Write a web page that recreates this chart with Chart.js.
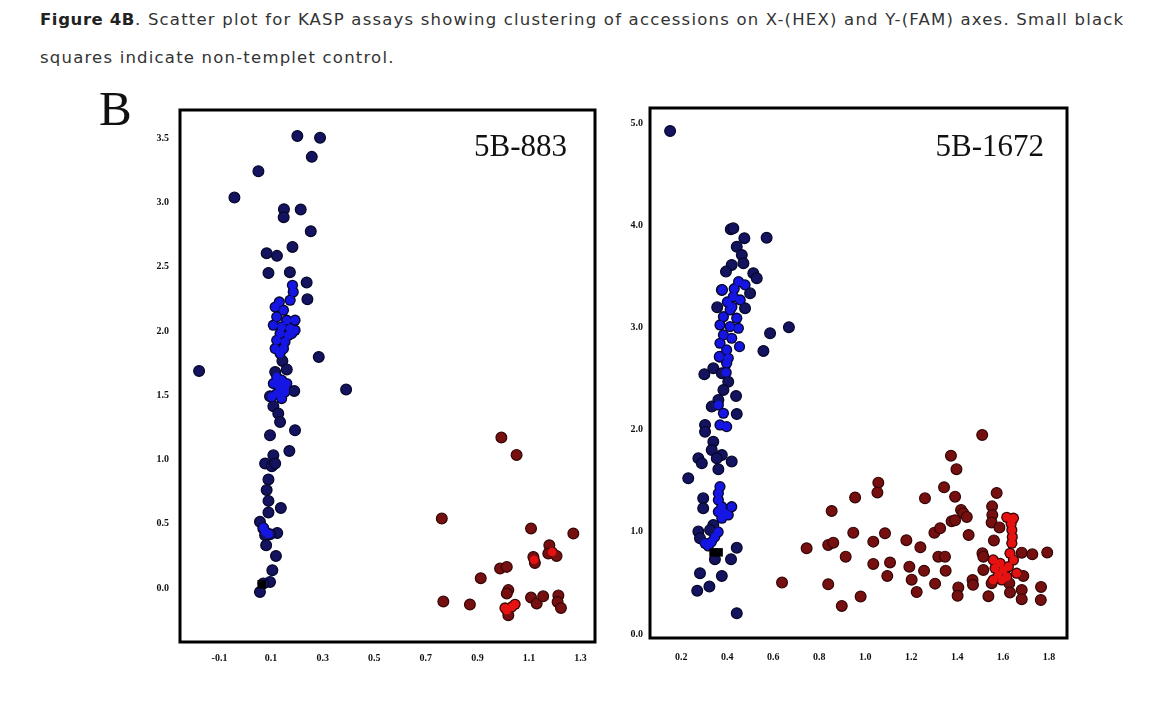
<!DOCTYPE html>
<html>
<head>
<meta charset="utf-8">
<script src="https://cdn.jsdelivr.net/npm/chart.js@4.4.1/dist/chart.umd.min.js"></script>
<style>
  body { margin: 0; background: #fff; width: 1162px; height: 706px; position: relative; overflow: hidden; }
  #caption { position: absolute; left: 40px; top: 1px; font-family: 'DejaVu Sans', sans-serif; font-size: 16.5px; letter-spacing: 1.2px; line-height: 38px; color: #333; white-space: nowrap; }
  #caption b { font-weight: bold; color: #222; letter-spacing: 0.6px; }
  #letter { position: absolute; left: 99px; top: 80px; font-family: 'Liberation Serif', serif; font-size: 49px; color: #111; }
  .box { position: absolute; }
</style>
</head>
<body>
<div id="caption"><b>Figure 4B</b>. Scatter plot for KASP assays showing clustering of accessions on X-(HEX) and Y-(FAM) axes. Small black<br>squares indicate non-templet control.</div>
<div id="letter">B</div>
<div class="box" style="left:130px;top:100px;width:480px;height:580px"><canvas id="left"></canvas></div>
<div class="box" style="left:600px;top:90px;width:480px;height:590px"><canvas id="right"></canvas></div>
<script>
// ----- dados: painel 5B-883 -----
const leftXTicks = [-0.1, 0.1, 0.3, 0.5, 0.7, 0.9, 1.1, 1.3];
const leftYTicks = [0.0, 0.5, 1.0, 1.5, 2.0, 2.5, 3.0, 3.5];

const leftBlue = [
  [-0.179,1.69],[-0.042,3.04],[0.051,3.245],[0.202,3.52],[0.290,3.505],[0.258,3.357],[0.150,2.949],
  [0.215,2.947],[0.149,2.887],[0.254,2.778],[0.183,2.656],[0.083,2.607],[0.123,2.586],[0.090,2.453],
  [0.173,2.459],[0.238,2.379],[0.241,2.248],[0.285,1.799],[0.391,1.545],[0.190,1.534],[0.144,1.768],
  [0.161,1.701],[0.116,1.682],[0.096,1.493],[0.109,1.415],[0.128,1.358],[0.135,1.293],[0.193,1.228],
  [0.096,1.189],[0.171,1.067],[0.109,1.033],[0.077,0.969],[0.103,0.948],[0.116,0.969],[0.090,0.845],
  [0.083,0.762],[0.090,0.678],[0.138,0.623],[0.090,0.588],[0.057,0.515],[0.070,0.463],[0.124,0.428],
  [0.096,0.418],[0.077,0.410],[0.081,0.332],[0.119,0.249],[0.105,0.138],[0.096,0.047],[0.070,0.035],
  [0.057,-0.031]
];
const leftBlueCore = [
  [0.183,2.357],[0.186,2.305],[0.174,2.241],[0.132,2.227],[0.116,2.188],[0.148,2.163],[0.122,2.111],
  [0.161,2.085],[0.193,2.085],[0.109,2.046],[0.141,2.033],[0.174,2.020],[0.193,2.007],[0.135,1.981],
  [0.167,1.968],[0.122,1.929],[0.154,1.916],[0.180,1.981],[0.116,1.864],[0.148,1.864],[0.135,1.826],
  [0.122,1.643],[0.141,1.618],[0.109,1.592],[0.161,1.592],[0.135,1.553],[0.122,1.514],[0.154,1.526],
  [0.103,1.488],[0.141,1.475],[0.154,1.560],[0.128,1.580],[0.070,0.470],[0.077,0.440],[0.090,0.420]
];
const leftRed = [
  [0.993,1.171],[1.052,1.036],[0.762,0.540],[1.108,0.463],[1.272,0.424],[1.179,0.333],[1.175,0.268],
  [1.207,0.249],[1.117,0.241],[1.123,0.195],[0.988,0.151],[1.014,0.164],[0.913,0.076],[1.020,-0.017],
  [1.014,-0.043],[0.768,-0.106],[0.871,-0.129],[1.108,-0.075],[1.130,-0.121],[1.155,-0.065],
  [1.214,-0.058],[1.211,-0.109],[1.224,-0.156],[1.020,-0.213]
];
const leftRedCore = [[1.007,-0.156],[1.033,-0.148],[1.046,-0.127],[1.014,-0.174],[1.120,0.220],[1.190,0.280]];
const leftNtc = [[0.064,0.029]];

// ----- dados: painel 5B-1672 -----
const rightXTicks = [0.2, 0.4, 0.6, 0.8, 1.0, 1.2, 1.4, 1.6, 1.8];
const rightYTicks = [0.0, 1.0, 2.0, 3.0, 4.0, 5.0];

const rightBlue = [
  [0.151,4.923],[0.415,3.962],[0.426,3.971],[0.474,3.874],[0.571,3.879],[0.441,3.791],[0.463,3.710],
  [0.419,3.612],[0.470,3.629],[0.394,3.547],[0.513,3.531],[0.528,3.482],[0.376,3.368],[0.499,3.335],
  [0.356,3.198],[0.477,3.189],[0.668,3.003],[0.586,2.944],[0.557,2.771],[0.368,2.715],[0.339,2.601],
  [0.300,2.543],[0.376,2.553],[0.404,2.470],[0.383,2.389],[0.438,2.330],[0.361,2.291],[0.332,2.226],
  [0.441,2.154],[0.303,2.047],[0.303,1.981],[0.339,1.883],[0.332,1.802],[0.376,1.753],[0.274,1.721],
  [0.289,1.672],[0.354,1.721],[0.419,1.688],[0.361,1.613],[0.230,1.525],[0.295,1.329],[0.295,1.232],
  [0.339,1.068],[0.325,1.019],[0.274,1.003],[0.281,0.938],[0.441,0.846],[0.346,0.733],[0.416,0.733],
  [0.281,0.596],[0.376,0.569],[0.269,0.425],[0.322,0.465],[0.441,0.204]
];
const rightBlueCore = [
  [0.449,3.449],[0.477,3.417],[0.378,3.368],[0.426,3.302],[0.456,3.270],[0.412,3.172],[0.383,3.106],
  [0.441,3.091],[0.368,3.025],[0.412,3.009],[0.448,2.993],[0.383,2.928],[0.419,2.895],[0.368,2.846],
  [0.453,2.813],[0.397,2.781],[0.365,2.715],[0.404,2.699],[0.397,2.650],[0.420,3.200],[0.400,3.250],
  [0.430,3.380],[0.395,2.560],[0.383,2.161],[0.397,2.030],[0.368,2.047],[0.361,2.242],[0.368,1.443],
  [0.361,1.378],[0.361,1.313],[0.376,1.247],[0.361,1.198],[0.390,1.183],[0.419,1.247],[0.376,1.134],
  [0.404,1.166],[0.303,0.889],[0.317,0.863],[0.330,0.900],[0.345,0.950],[0.360,1.000]
];
const rightRed = [
  [0.638,0.504],[0.745,0.840],[0.839,0.873],[0.861,0.895],[0.854,1.205],[0.915,0.758],[0.839,0.488],
  [0.898,0.276],[0.948,0.993],[0.956,1.337],[0.980,0.367],[1.035,0.905],[1.035,0.687],[1.057,1.482],
  [1.053,1.386],[1.086,0.987],[1.096,0.569],[1.108,0.701],[1.179,0.919],[1.192,0.660],[1.202,0.533],
  [1.224,0.411],[1.240,0.850],[1.260,1.329],[1.256,0.620],[1.304,0.494],[1.301,0.993],[1.326,1.036],
  [1.318,0.758],[1.347,0.758],[1.343,1.437],[1.350,0.621],[1.373,1.746],[1.376,1.104],[1.391,1.114],
  [1.397,1.614],[1.391,1.345],[1.405,0.457],[1.402,0.375],[1.417,1.215],[1.427,1.183],[1.442,1.147],
  [1.450,0.970],[1.467,0.530],[1.469,0.482],[1.509,1.949],[1.510,0.791],[1.514,0.758],[1.514,0.628],
  [1.536,0.371],[1.552,1.250],[1.553,1.166],[1.550,1.093],[1.572,1.381],[1.560,0.917],[1.584,1.044],
  [1.681,0.797],[1.727,0.781],[1.792,0.799],[1.627,0.498],[1.630,0.408],[1.688,0.569],[1.681,0.432],
  [1.681,0.342],[1.765,0.462],[1.764,0.334],[1.550,0.498]
];
const rightRedCore = [
  [1.616,1.143],[1.645,1.134],[1.638,1.019],[1.638,0.889],[1.557,0.726],[1.587,0.693],[1.565,0.645],
  [1.601,0.628],[1.579,0.579],[1.557,0.530],[1.594,0.530],[1.616,0.562],[1.630,0.791],[1.645,0.726],
  [1.623,0.660],[1.659,0.596],[1.640,0.950],[1.635,1.080]
];
const rightNtc = [[0.340,0.800],[0.362,0.800]];

// ----- estilos -----
const COLORS = {
  blueDark: '#13135f',
  blueEdge: '#06062a',
  blueBright: '#1616e4',
  redDark: '#761010',
  redEdge: '#350505',
  redBright: '#e61212',
  frame: '#000',
  tick: '#111',
};

const toPts = arr => arr.map(([x, y]) => ({ x, y }));

// moldura em volta da área do gráfico + rótulo do ensaio
const framePlugin = {
  id: 'frame',
  afterDraw(chart, args, opts) {
    const { ctx, chartArea: a } = chart;
    ctx.save();
    ctx.lineWidth = 3;
    ctx.strokeStyle = COLORS.frame;
    ctx.strokeRect(a.left, a.top, a.right - a.left, a.bottom - a.top);
    ctx.fillStyle = '#111';
    ctx.font = "31px 'Liberation Serif', serif";
    ctx.textAlign = 'right';
    ctx.textBaseline = 'middle';
    ctx.fillText(opts.label, a.right - opts.labelRight, a.top + opts.labelTop);
    ctx.restore();
  },
};

function panel(canvasId, cfg) {
  const ctx = document.getElementById(canvasId).getContext('2d');
  const tickFont = { family: "'Liberation Serif', serif", size: 10, weight: 'bold' };
  return new Chart(ctx, {
    type: 'scatter',
    plugins: [framePlugin],
    data: {
      datasets: [
        { data: toPts(cfg.ntc), pointStyle: 'rect', pointRadius: 6, backgroundColor: '#000', borderColor: '#000', borderWidth: 0, order: 0 },
        { data: toPts(cfg.redCore), pointRadius: 4.3, backgroundColor: COLORS.redBright, borderWidth: 0, order: 1 },
        { data: toPts(cfg.red), pointRadius: 5.4, backgroundColor: COLORS.redDark, borderColor: COLORS.redEdge, borderWidth: 1.2, order: 2 },
        { data: toPts(cfg.redCore), pointRadius: 5.6, backgroundColor: COLORS.redEdge, borderWidth: 0, order: 3 },
        { data: toPts(cfg.blueCore), pointRadius: 4.3, backgroundColor: COLORS.blueBright, borderWidth: 0, order: 4 },
        { data: toPts(cfg.blue), pointRadius: 5.4, backgroundColor: COLORS.blueDark, borderColor: COLORS.blueEdge, borderWidth: 1.2, order: 5 },
        { data: toPts(cfg.blueCore), pointRadius: 5.6, backgroundColor: COLORS.blueEdge, borderWidth: 0, order: 6 },
      ],
    },
    options: {
      responsive: true,
      maintainAspectRatio: false,
      animation: false,
      layout: { padding: cfg.padding },
      plugins: {
        legend: { display: false },
        tooltip: { enabled: false },
        frame: { label: cfg.label, labelRight: cfg.labelRight, labelTop: cfg.labelTop },
      },
      scales: {
        x: {
          type: 'linear',
          min: cfg.xMin,
          max: cfg.xMax,
          grid: { display: false, drawTicks: false },
          border: { display: false },
          afterBuildTicks: axis => { axis.ticks = cfg.xTicks.map(v => ({ value: v })); },
          afterFit: axis => { axis.height = cfg.xAxisH; axis.paddingLeft = 0; axis.paddingRight = 0; },
          ticks: { autoSkip: false, maxRotation: 0, color: COLORS.tick, font: tickFont, padding: cfg.xPad, callback: v => v.toFixed(1) },
        },
        y: {
          type: 'linear',
          min: cfg.yMin,
          max: cfg.yMax,
          grid: { display: false, drawTicks: false },
          border: { display: false },
          afterBuildTicks: axis => { axis.ticks = cfg.yTicks.map(v => ({ value: v })); },
          afterFit: axis => { axis.width = 50; axis.paddingTop = 0; axis.paddingBottom = 0; },
          ticks: { autoSkip: false, color: COLORS.tick, font: tickFont, padding: cfg.yPad, callback: v => v.toFixed(1) },
        },
      },
    },
  });
}

panel('left', {
  label: '5B-883', labelRight: 28, labelTop: 38,
  blue: leftBlue, blueCore: leftBlueCore, red: leftRed, redCore: leftRedCore, ntc: leftNtc,
  xTicks: leftXTicks, yTicks: leftYTicks,
  xMin: -0.253, xMax: 1.356, yMin: -0.421, yMax: 3.722,
  padding: { top: 10, right: 15, left: 0, bottom: 0 },
  xAxisH: 38, xPad: 10, yPad: 11,
});

panel('right', {
  label: '5B-1672', labelRight: 23, labelTop: 40,
  blue: rightBlue, blueCore: rightBlueCore, red: rightRed, redCore: rightRedCore, ntc: rightNtc,
  xTicks: rightXTicks, yTicks: rightYTicks,
  xMin: 0.0635, xMax: 1.878, yMin: -0.038, yMax: 5.148,
  padding: { top: 18, right: 13, left: 0, bottom: 0 },
  xAxisH: 42, xPad: 13, yPad: 7,
});
</script>
</body>
</html>
